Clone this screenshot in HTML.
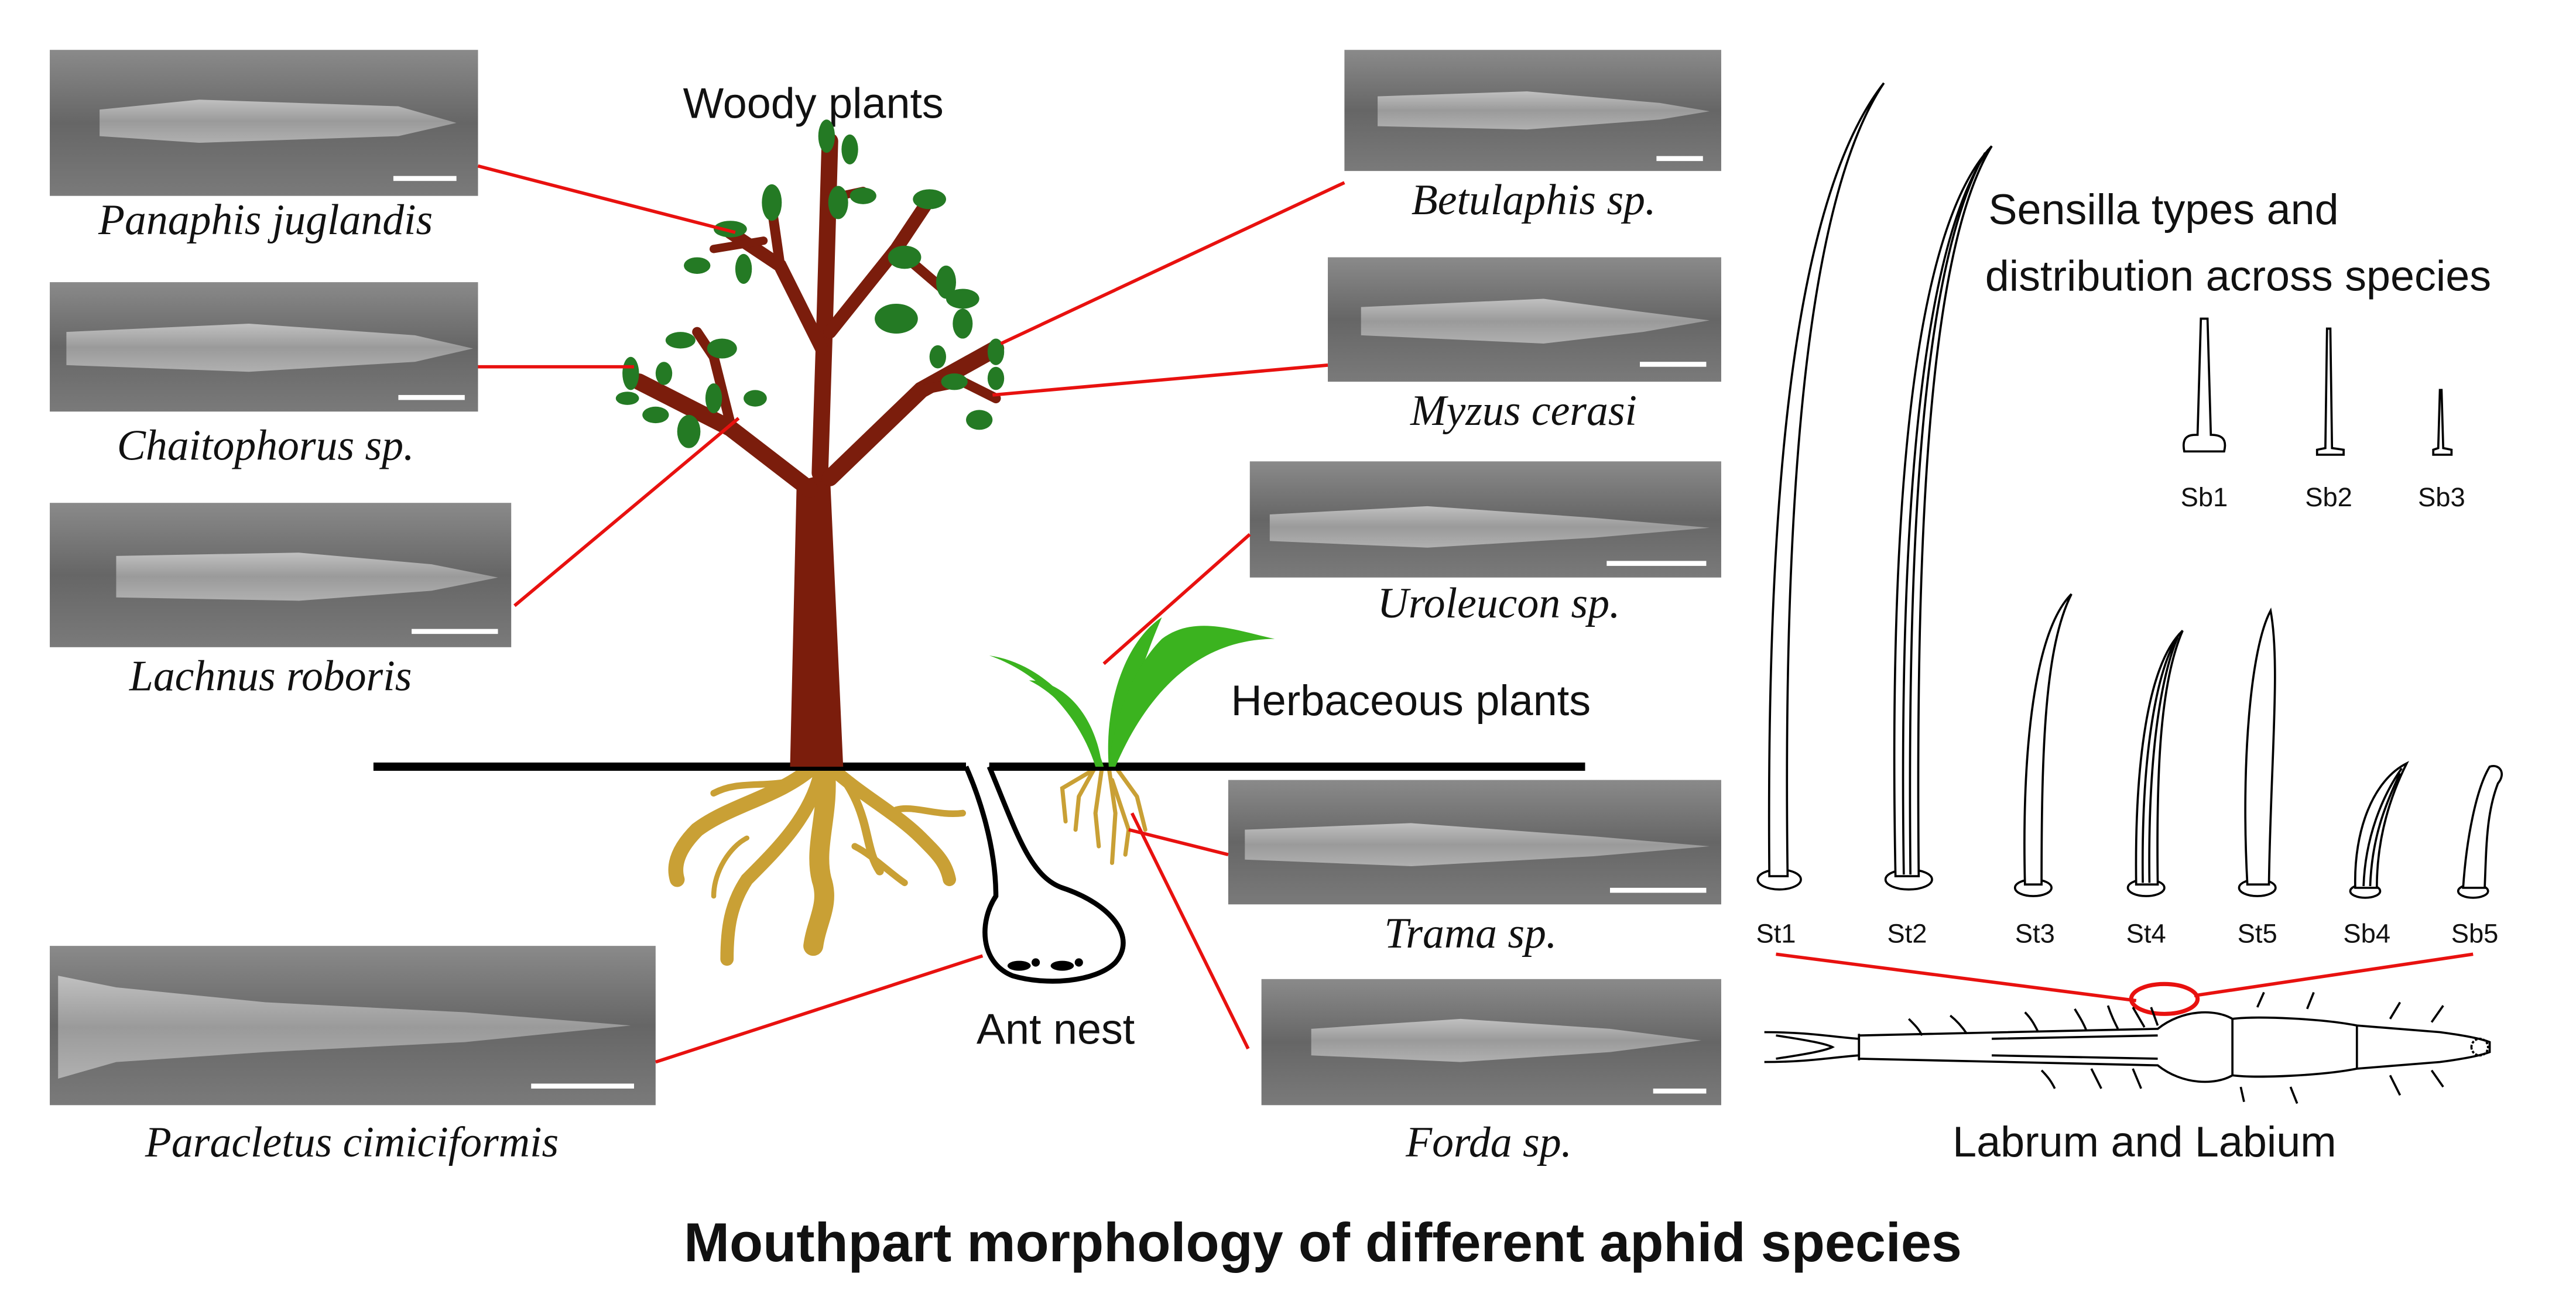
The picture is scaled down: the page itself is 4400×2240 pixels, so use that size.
<!DOCTYPE html>
<html><head><meta charset="utf-8"><style>
html,body{margin:0;padding:0;background:#fff}
svg{display:block}
.it{font-family:"Liberation Serif",serif;font-style:italic;font-size:26px;fill:#111}
.sn{font-family:"Liberation Sans",sans-serif;fill:#111}
</style></head><body>
<svg width="4400" height="2240" viewBox="0 0 1552 790" xmlns="http://www.w3.org/2000/svg">
<defs>
<linearGradient id="sem" x1="0" y1="0" x2="0" y2="1">
<stop offset="0" stop-color="#8a8a8a"/><stop offset="0.5" stop-color="#666"/><stop offset="1" stop-color="#7a7a7a"/>
</linearGradient>
<linearGradient id="sty" x1="0" y1="0" x2="0" y2="1">
<stop offset="0" stop-color="#c0c0c0"/><stop offset="0.5" stop-color="#9a9a9a"/><stop offset="1" stop-color="#b0b0b0"/>
</linearGradient>
</defs>

<g id="sem">
<rect x="30" y="30" width="258" height="88" fill="url(#sem)"/>
<path d="M60 66 L120 60 L240 64 L275 74 L240 82 L120 86 L60 82Z" fill="url(#sty)"/>
<rect x="237" y="106" width="38" height="3" fill="#fff"/>

<rect x="30" y="170" width="258" height="78" fill="url(#sem)"/>
<path d="M40 200 L150 195 L250 202 L285 210 L250 218 L150 224 L40 220Z" fill="url(#sty)"/>
<rect x="240" y="238" width="40" height="3" fill="#fff"/>

<rect x="30" y="303" width="278" height="87" fill="url(#sem)"/>
<path d="M70 335 L180 333 L260 340 L300 348 L260 356 L180 362 L70 360Z" fill="url(#sty)"/>
<rect x="248" y="379" width="52" height="3" fill="#fff"/>

<rect x="810" y="30" width="227" height="73" fill="url(#sem)"/>
<path d="M830 58 L920 55 L1000 62 L1030 67 L1000 72 L920 78 L830 76Z" fill="url(#sty)"/>
<rect x="998" y="94" width="28" height="3" fill="#fff"/>

<rect x="800" y="155" width="237" height="75" fill="url(#sem)"/>
<path d="M820 185 L930 180 L990 188 L1030 193 L990 200 L930 207 L820 202Z" fill="url(#sty)"/>
<rect x="988" y="218" width="40" height="3" fill="#fff"/>

<rect x="753" y="278" width="284" height="70" fill="url(#sem)"/>
<path d="M765 310 L860 305 L960 312 L1030 318 L960 324 L860 330 L765 326Z" fill="url(#sty)"/>
<rect x="968" y="338" width="60" height="3" fill="#fff"/>

<rect x="740" y="470" width="297" height="75" fill="url(#sem)"/>
<path d="M750 500 L850 496 L960 504 L1030 510 L960 516 L850 522 L750 518Z" fill="url(#sty)"/>
<rect x="970" y="535" width="58" height="3" fill="#fff"/>

<rect x="760" y="590" width="277" height="76" fill="url(#sem)"/>
<path d="M790 620 L880 614 L970 620 L1025 627 L970 634 L880 640 L790 636Z" fill="url(#sty)"/>
<rect x="996" y="656" width="32" height="3" fill="#fff"/>

<rect x="30" y="570" width="365" height="96" fill="url(#sem)"/>
<path d="M35 588 L70 595 L160 604 L280 610 L380 618 L280 628 L160 634 L70 640 L35 650Z" fill="url(#sty)"/>
<rect x="320" y="653" width="62" height="3" fill="#fff"/>
</g>

<text class="it" x="160" y="141" text-anchor="middle">Panaphis juglandis</text>
<text class="it" x="160" y="277" text-anchor="middle">Chaitophorus sp.</text>
<text class="it" x="163" y="416" text-anchor="middle">Lachnus roboris</text>
<text class="it" x="924" y="129" text-anchor="middle">Betulaphis sp.</text>
<text class="it" x="918" y="256" text-anchor="middle">Myzus cerasi</text>
<text class="it" x="903" y="372" text-anchor="middle">Uroleucon sp.</text>
<text class="it" x="886" y="571" text-anchor="middle">Trama sp.</text>
<text class="it" x="897" y="697" text-anchor="middle">Forda sp.</text>
<text class="it" x="212" y="697" text-anchor="middle">Paracletus cimiciformis</text>

<text class="sn" x="490" y="71" font-size="26" text-anchor="middle">Woody plants</text>
<text class="sn" x="850" y="431" font-size="26" text-anchor="middle">Herbaceous plants</text>
<text class="sn" x="636" y="629" font-size="26" text-anchor="middle">Ant nest</text>
<text class="sn" x="1198" y="135" font-size="26">Sensilla types and</text>
<text class="sn" x="1196" y="175" font-size="26">distribution across species</text>
<text class="sn" x="1292" y="697" font-size="26" text-anchor="middle">Labrum and Labium</text>
<text class="sn" x="797" y="760" font-size="33" font-weight="bold" text-anchor="middle">Mouthpart morphology of different aphid species</text>

<g fill="none" stroke="#c9a035" stroke-linecap="round">
<path d="M490 462 C470 480 440 485 420 500 C410 510 405 520 408 530" stroke-width="9"/>
<path d="M495 462 C490 490 470 510 450 530 C440 545 438 560 438 578" stroke-width="8"/>
<path d="M497 462 C500 490 490 510 495 530 C500 545 492 555 490 570" stroke-width="12"/>
<path d="M500 462 C520 480 540 490 555 505 C565 515 570 520 572 530" stroke-width="8"/>
<path d="M505 465 C525 490 520 510 530 525" stroke-width="5"/>
<path d="M480 470 C460 475 445 470 430 478" stroke-width="4"/>
<path d="M540 488 C550 485 565 492 580 490" stroke-width="4"/>
<path d="M450 505 C440 510 430 525 430 540" stroke-width="3"/>
<path d="M515 510 C525 515 535 525 545 532" stroke-width="4"/>
</g>
<g fill="none" stroke="#c9a035" stroke-width="2.5" stroke-linecap="round">
<path d="M660 462 L650 480 L648 500"/><path d="M664 462 L660 490 L662 510"/>
<path d="M668 462 L672 490 L670 520"/><path d="M672 462 L685 480 L690 500"/>
<path d="M662 462 L640 475 L642 495"/><path d="M670 470 L680 500 L678 515"/>
</g>

<path d="M225 462 L582 462 M596 462 L955 462" stroke="#000" stroke-width="5" fill="none"/>
<path d="M582 462 C590 480 600 510 600 540 C590 555 590 580 610 588 C630 594 660 592 672 580 C685 565 670 545 640 535 C620 528 612 500 596 462" fill="none" stroke="#000" stroke-width="3"/>
<g fill="#000"><ellipse cx="614" cy="582" rx="7" ry="3"/><ellipse cx="640" cy="582" rx="7" ry="3"/><circle cx="624" cy="580" r="2.5"/><circle cx="650" cy="580" r="2.5"/></g>

<g fill="#7b1d0c">
<path d="M476 462 L480 290 L500 285 L508 462Z"/>
</g>
<g fill="none" stroke="#7b1d0c" stroke-linecap="round">
<path d="M488 295 L440 258 L385 230" stroke-width="10"/>
<path d="M494 285 L497 190 L500 85" stroke-width="10"/>
<path d="M500 288 L555 235 L600 210" stroke-width="10"/>
<path d="M495 210 L470 160 L440 140" stroke-width="8"/>
<path d="M470 160 L465 125" stroke-width="6"/>
<path d="M500 200 L540 150 L560 120" stroke-width="8"/>
<path d="M540 150 L575 180" stroke-width="6"/>
<path d="M440 255 L430 215 L420 200" stroke-width="6"/>
<path d="M555 235 L580 230 L600 240" stroke-width="6"/>
<path d="M497 120 L520 115" stroke-width="5"/>
<path d="M460 145 L430 150" stroke-width="5"/>
</g>
<g fill="#247a24">
<ellipse cx="465" cy="122" rx="6" ry="11"/><ellipse cx="440" cy="138" rx="10" ry="5"/>
<ellipse cx="420" cy="160" rx="8" ry="5"/><ellipse cx="448" cy="162" rx="5" ry="9"/>
<ellipse cx="505" cy="122" rx="6" ry="10"/><ellipse cx="520" cy="118" rx="8" ry="5"/>
<ellipse cx="498" cy="82" rx="5" ry="10"/><ellipse cx="512" cy="90" rx="5" ry="9"/>
<ellipse cx="545" cy="155" rx="10" ry="7"/><ellipse cx="560" cy="120" rx="10" ry="6"/>
<ellipse cx="570" cy="170" rx="6" ry="10"/><ellipse cx="580" cy="180" rx="10" ry="6"/>
<ellipse cx="540" cy="192" rx="13" ry="9"/><ellipse cx="580" cy="195" rx="6" ry="9"/>
<ellipse cx="600" cy="212" rx="5" ry="8"/><ellipse cx="600" cy="228" rx="5" ry="7"/>
<ellipse cx="575" cy="230" rx="8" ry="5"/><ellipse cx="590" cy="253" rx="8" ry="6"/>
<ellipse cx="380" cy="225" rx="5" ry="10"/><ellipse cx="378" cy="240" rx="7" ry="4"/>
<ellipse cx="395" cy="250" rx="8" ry="5"/><ellipse cx="415" cy="260" rx="7" ry="10"/>
<ellipse cx="410" cy="205" rx="9" ry="5"/><ellipse cx="435" cy="210" rx="9" ry="6"/>
<ellipse cx="400" cy="225" rx="5" ry="7"/><ellipse cx="455" cy="240" rx="7" ry="5"/>
<ellipse cx="430" cy="240" rx="5" ry="9"/><ellipse cx="565" cy="215" rx="5" ry="7"/>
</g>

<g fill="#3bb31f">
<path d="M665 462 C655 430 630 400 596 395 C625 405 650 430 660 462Z"/>
<path d="M668 462 C665 420 680 385 700 372 C690 395 678 430 672 462Z"/>
<path d="M672 462 C690 420 720 385 768 385 C745 380 720 370 700 385 C680 405 670 440 668 462Z"/>
<path d="M664 462 C660 430 640 410 620 410 C640 420 655 440 660 462Z"/>
</g>

<g stroke="#e8110f" stroke-width="2" fill="none">
<path d="M288 100 L443 140"/>
<path d="M288 221 L382 221"/>
<path d="M310 365 L445 252"/>
<path d="M810 110 L603 207"/>
<path d="M800 220 L598 238"/>
<path d="M753 322 L665 400"/>
<path d="M740 515 L680 500"/>
<path d="M752 632 L682 490"/>
<path d="M395 640 L592 576"/>
<path d="M1070 575 L1287 603"/>
<path d="M1322 600 L1490 575"/>
<ellipse cx="1304" cy="602" rx="20" ry="9" stroke-width="2.5"/>
</g>

<g fill="#fff" stroke="#000" stroke-width="1.3">
<ellipse cx="1072" cy="530" rx="13" ry="6"/>
<path d="M1066 528 C1064 300 1080 120 1135 50 C1088 120 1074 300 1077 528Z"/>
<ellipse cx="1150" cy="530" rx="14" ry="6"/>
<path d="M1142 528 C1138 320 1150 140 1200 88 C1162 150 1154 320 1156 528Z"/>
<path d="M1147 527 C1144 320 1156 150 1198 90 M1151 527 C1149 320 1158 160 1196 92" fill="none"/>
<ellipse cx="1225" cy="535" rx="11" ry="5"/>
<path d="M1220 533 C1218 450 1226 380 1248 358 C1232 390 1230 450 1230 533Z"/>
<ellipse cx="1293" cy="535" rx="11" ry="5"/>
<path d="M1287 533 C1286 460 1294 400 1315 380 C1302 410 1299 460 1300 533Z"/>
<path d="M1291 532 C1290 460 1298 405 1313 382 M1295 532 C1294 460 1301 410 1312 384" fill="none"/>
<ellipse cx="1360" cy="535" rx="11" ry="5"/>
<path d="M1354 533 C1350 460 1356 390 1368 368 C1374 400 1368 460 1367 533Z"/>
<ellipse cx="1425" cy="537" rx="9" ry="4"/>
<path d="M1419 535 C1418 500 1430 470 1450 460 C1440 480 1432 505 1432 535Z"/>
<path d="M1424 534 C1425 505 1435 480 1447 463 M1428 534 C1429 505 1437 485 1446 466" fill="none"/>
<ellipse cx="1490" cy="537" rx="9" ry="4"/>
<path d="M1484 535 C1486 505 1492 475 1500 462 C1506 460 1510 466 1505 472 C1498 490 1498 510 1497 535Z"/>
<path d="M1316 272 C1314 262 1320 262 1324 262 L1326 192 L1330 192 L1332 262 C1338 262 1342 264 1340 272Z"/>
<path d="M1396 274 L1412 274 L1412 271 L1405 270 L1404 198 L1402 198 L1401 270 L1396 271Z"/>
<path d="M1466 274 L1477 274 L1477 271 L1472 270 L1471 235 L1470 235 L1469 270 L1466 271Z"/>
</g>
<g class="sn" font-size="16" text-anchor="middle">
<text x="1328" y="305">Sb1</text><text x="1403" y="305">Sb2</text><text x="1471" y="305">Sb3</text>
<text x="1070" y="568">St1</text><text x="1149" y="568">St2</text><text x="1226" y="568">St3</text>
<text x="1293" y="568">St4</text><text x="1360" y="568">St5</text><text x="1426" y="568">Sb4</text><text x="1491" y="568">Sb5</text>
</g>

<g fill="none" stroke="#000" stroke-width="1.3">
<path d="M1063 622 C1090 622 1105 625 1120 626 L1120 636 C1105 637 1090 640 1063 640"/>
<path d="M1070 624 C1090 627 1100 629 1104 631 C1100 633 1090 635 1070 638"/>
<path d="M1120 623 L1120 639"/>
<path d="M1120 624 L1300 620 C1315 608 1335 608 1345 614 C1360 612 1400 614 1420 618 L1470 622 C1485 624 1495 626 1500 628 L1500 634 C1495 636 1485 638 1470 640 L1420 644 C1400 648 1360 650 1345 648 C1335 654 1315 654 1300 642 L1120 638"/>
<path d="M1420 618 L1420 644 M1345 614 L1345 648"/>
<path d="M1200 626 L1300 624 M1200 636 L1300 638"/>
<path d="M1220 610 C1224 614 1226 618 1228 622 M1250 608 C1253 613 1255 616 1257 621 M1270 606 C1272 612 1274 616 1276 620 M1175 612 C1180 616 1183 620 1185 623 M1150 614 C1154 618 1156 620 1158 624 M1285 607 L1292 619 M1296 607 L1300 618"/>
<path d="M1230 645 C1234 649 1236 652 1238 656 M1260 644 C1262 648 1264 652 1266 656 M1285 644 L1290 656 M1350 655 L1352 664 M1380 655 L1384 665 M1440 648 L1446 660 M1465 645 L1472 655"/>
<path d="M1360 607 L1364 598 M1390 608 L1394 598 M1440 614 L1446 604 M1465 616 L1472 606"/>
<path d="M1494 631 m-5 0 a5 5 0 1 0 10 0 a5 5 0 1 0 -10 0" stroke-dasharray="1.5 1"/>
</g>
</svg>
</body></html>
